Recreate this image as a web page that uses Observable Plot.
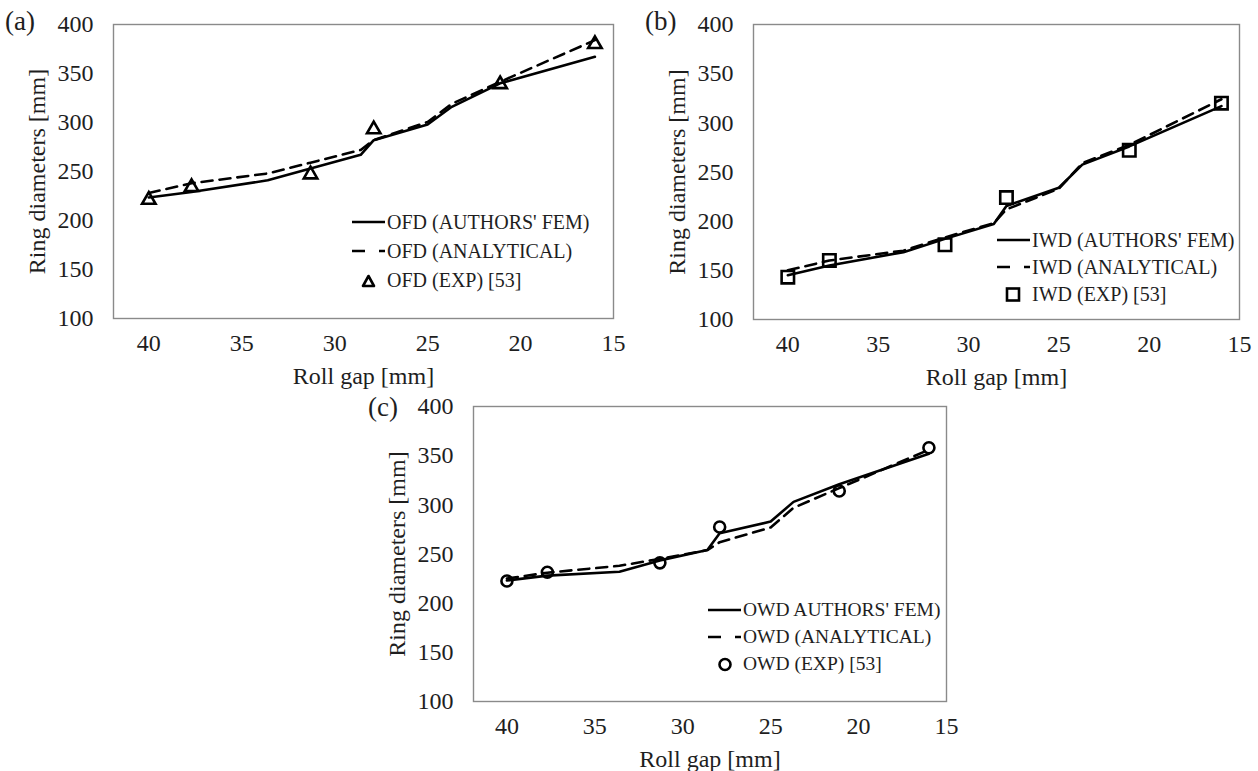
<!DOCTYPE html>
<html><head><meta charset="utf-8">
<script src="https://cdn.jsdelivr.net/npm/d3@7"></script>
<script src="https://cdn.jsdelivr.net/npm/@observablehq/plot@0.6"></script>
<style>
body{margin:0;background:#fff;}
#wrap{position:relative;width:1258px;height:771px;font-family:"Liberation Serif","Times New Roman",serif;color:#1e1e1e;overflow:hidden;}
.panel{position:absolute;}
.panel text{font-family:"Liberation Serif","Times New Roman",serif;}
.tag{position:absolute;font-size:27px;line-height:30px;}
.legend{position:absolute;font-size:20px;}
.row{position:absolute;left:0;display:flex;align-items:center;height:26px;white-space:nowrap;}
.row svg{flex:none;}
</style></head><body><div id="wrap"></div>
<script>
// ---- data ----
const xTicks = [40, 35, 30, 25, 20, 15];
const yTicks = [100, 150, 200, 250, 300, 350, 400];
const rollGap = [40, 37.7, 33.6, 31.3, 28.6, 27.9, 25.0, 23.7, 21.1, 16.0];
const expGap = [40, 37.7, 31.3, 27.9, 21.1, 16.0];

const ofdFem = [223.5, 229, 241, 253, 267, 282, 298, 316, 340, 367];
const ofdAna = [228, 238, 248, 259, 272, 282, 300.5, 319, 341.5, 384];
const ofdExp = [221, 234, 247, 293, 339, 380];

const iwdFem = [145, 155, 168.5, 182, 197, 215.5, 234, 257.5, 276, 317];
const iwdAna = [150, 160, 170, 183.5, 198, 212, 233, 259, 277.5, 324];
const iwdExp = [143, 160, 176, 224, 272, 320];

const owdFem = [223, 228, 232, 243.5, 254, 271, 283, 303, 321, 352];
const owdAna = [225, 231, 238, 245, 254, 262, 277, 297, 317, 356];
const owdExp = [222.5, 231.5, 241, 277.5, 314, 358];

const legendA = ["OFD (AUTHORS' FEM)", "OFD (ANALYTICAL)", "OFD (EXP) [53]"];
const legendB = ["IWD (AUTHORS' FEM)", "IWD (ANALYTICAL)", "IWD (EXP) [53]"];
const legendC = ["OWD AUTHORS' FEM)", "OWD (ANALYTICAL)", "OWD (EXP) [53]"];

const wrap = document.getElementById("wrap");

function panel(o) {
  const lineData = rollGap.map((g, i) => ({g, fem: o.fem[i], ana: o.ana[i]}));
  const expData = expGap.map((g, i) => ({g, v: o.exp[i]}));
  const p = Plot.plot({
    width: o.width, height: o.height,
    marginTop: o.mt, marginRight: o.mr, marginBottom: o.mb, marginLeft: o.ml,
    style: {fontFamily: "Liberation Serif, serif", fontSize: "24px", color: "#1e1e1e", background: "transparent", overflow: "visible"},
    x: {domain: o.xDomain},
    y: {domain: [100, 400]},
    marks: [
      Plot.frame({stroke: "#8a8a8a", strokeWidth: 1.4}),
      Plot.axisX({ticks: xTicks, tickSize: 0, tickPadding: 15, tickFormat: d => d, label: "Roll gap [mm]", labelAnchor: "center", labelArrow: false, labelOffset: 65}),
      Plot.axisY({ticks: yTicks, tickSize: 0, tickPadding: 20, tickFormat: d => d, label: "Ring diameters [mm]", labelAnchor: "center", labelArrow: false, labelOffset: 86}),
      Plot.line(lineData, {x: "g", y: "ana", stroke: "#000", strokeWidth: 2.6, strokeDasharray: "11,7"}),
      Plot.line(lineData, {x: "g", y: "fem", stroke: "#000", strokeWidth: 2.6}),
      Plot.dot(expData, {x: "g", y: "v", symbol: o.symbol, r: o.r, stroke: "#000", strokeWidth: 2.6, fill: "none"})
    ]
  });
  p.classList.add("panel");
  p.style.left = o.left + "px";
  p.style.top = o.top + "px";
  wrap.appendChild(p);

  const tag = document.createElement("div");
  tag.className = "tag";
  tag.textContent = o.tag;
  tag.style.left = o.tagX + "px";
  tag.style.top = o.tagY + "px";
  wrap.appendChild(tag);

  const lg = document.createElement("div");
  lg.className = "legend";
  lg.style.left = o.lgX + "px";
  lg.style.top = o.lgY + "px";
  lg.style.fontSize = o.lgFont + "px";
  const sw = [
    `<svg width="33" height="20"><line x1="0" y1="10" x2="33" y2="10" stroke="#000" stroke-width="2.6"/></svg>`,
    `<svg width="33" height="20"><line x1="0" y1="10" x2="33" y2="10" stroke="#000" stroke-width="2.6" stroke-dasharray="13,14,6"/></svg>`,
    `<svg width="33" height="20">${o.swatch}</svg>`
  ];
  o.labels.forEach((t, i) => {
    const r = document.createElement("div");
    r.className = "row";
    r.style.top = (i * o.lgStep) + "px";
    r.innerHTML = sw[i] + `<span style="margin-left:2px">${t}</span>`;
    lg.appendChild(r);
  });
  wrap.appendChild(lg);
}

panel({fem: ofdFem, ana: ofdAna, exp: ofdExp, symbol: "triangle", r: 5, labels: legendA, xDomain: [41.9, 15],
  left: 0, top: 0, width: 640, height: 392, mt: 24, mr: 27, mb: 74, ml: 113,
  tag: "(a)", tagX: 5, tagY: 6, lgX: 352, lgY: 209, lgStep: 29, lgFont: 20,
  swatch: `<path d="M11,16 L16.5,6 L22,16 Z" fill="none" stroke="#000" stroke-width="2.6" stroke-linejoin="round"/>`});

panel({fem: iwdFem, ana: iwdAna, exp: iwdExp, symbol: "square", r: 7, labels: legendB, xDomain: [41.9, 15],
  left: 640, top: 0, width: 618, height: 392, mt: 24, mr: 19, mb: 73, ml: 113,
  tag: "(b)", tagX: 645, tagY: 6, lgX: 997, lgY: 227, lgStep: 27, lgFont: 20,
  swatch: `<rect x="10" y="4.5" width="12" height="12" fill="none" stroke="#000" stroke-width="2.6"/>`});

panel({fem: owdFem, ana: owdAna, exp: owdExp, symbol: "circle", r: 5.5, labels: legendC, xDomain: [41.9, 15],
  left: 360, top: 384, width: 600, height: 387, mt: 22, mr: 14, mb: 70, ml: 113,
  tag: "(c)", tagX: 368, tagY: 392, lgX: 708, lgY: 597, lgStep: 27, lgFont: 19.5,
  swatch: `<circle cx="17" cy="10.5" r="5.5" fill="none" stroke="#000" stroke-width="2.6"/>`});
</script>
</body></html>
